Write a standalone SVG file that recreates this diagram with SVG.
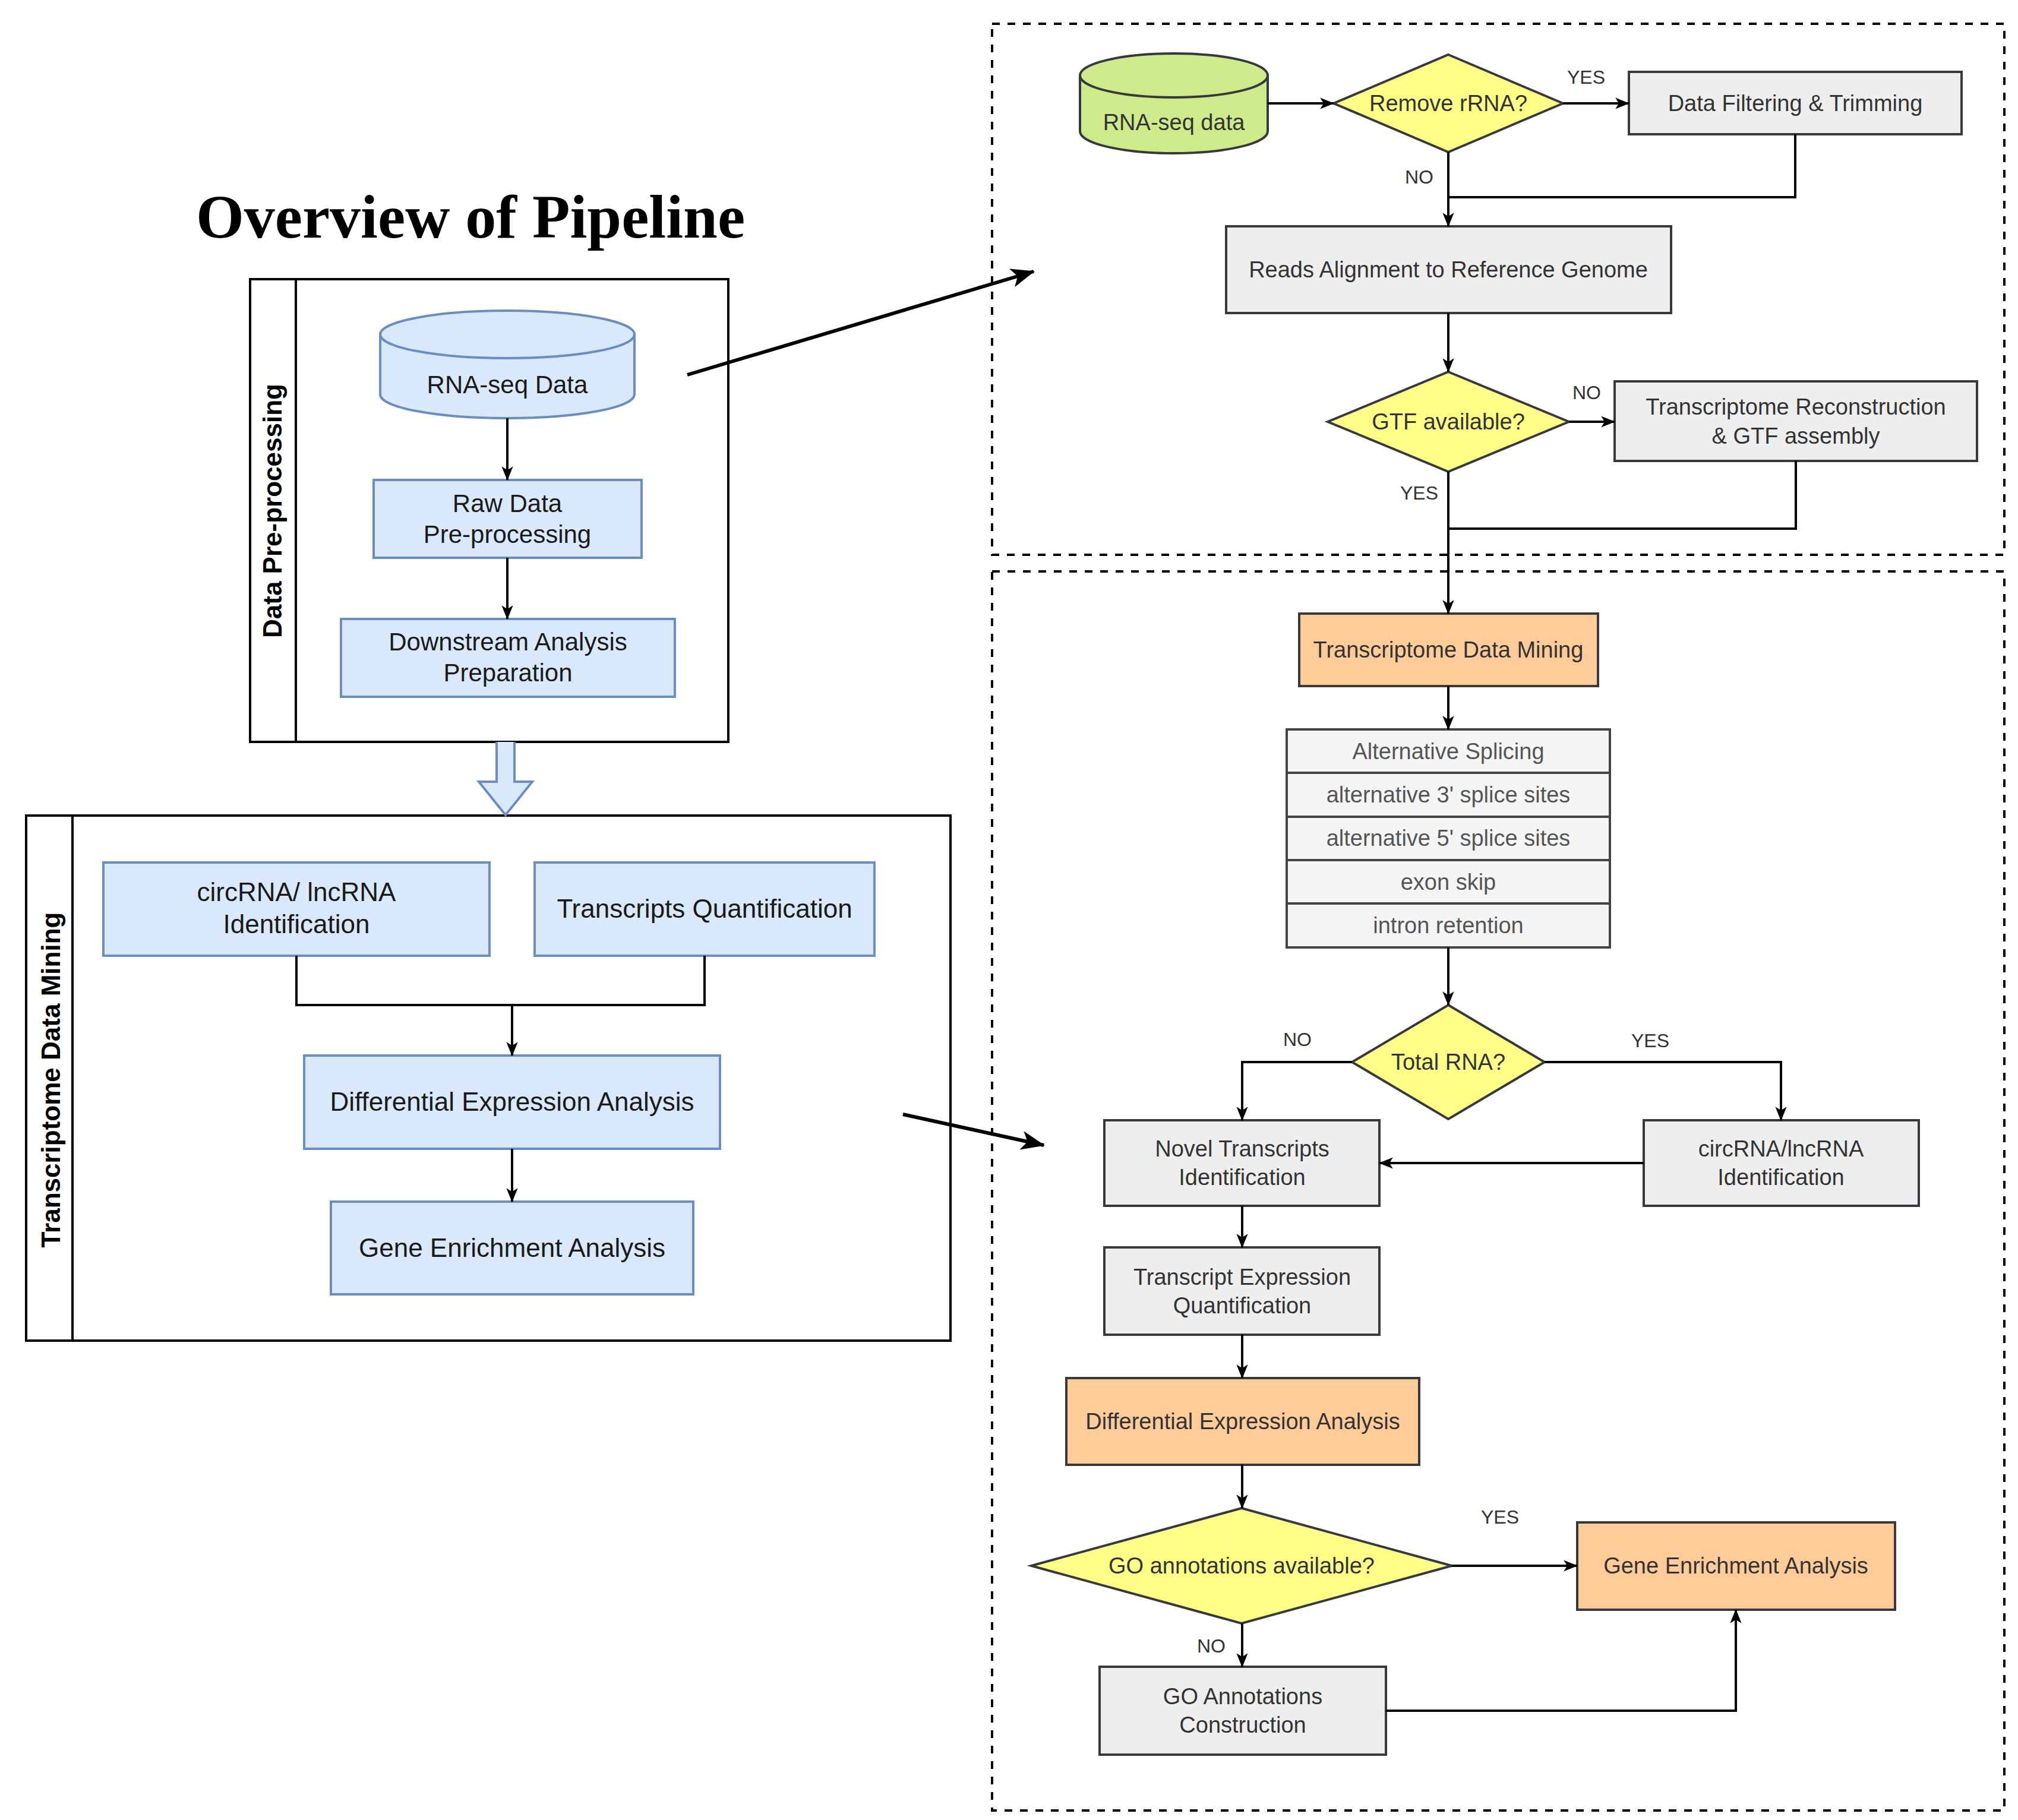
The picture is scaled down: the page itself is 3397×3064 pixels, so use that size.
<svg xmlns="http://www.w3.org/2000/svg" width="3397" height="3064" viewBox="0 0 3397 3064">
<style>
.t{font-family:"Liberation Sans",Arial,sans-serif;text-anchor:middle}
.r{font-size:38px;fill:#333333}
.as{font-size:38px;fill:#555555}
.lb{font-size:32px;fill:#333333}
.l1{font-size:42px;fill:#1a1a1a}
.l2{font-size:44px;fill:#1a1a1a}
.blue{fill:#dae8fc;stroke:#6c8ebf;stroke-width:4}
.gray{fill:#eeeeee;stroke:#36393d;stroke-width:4}
.asr{fill:#f5f5f5;stroke:#444444;stroke-width:4}
.yel{fill:#ffff88;stroke:#36393d;stroke-width:4}
.org{fill:#ffcc99;stroke:#36393d;stroke-width:4}
.grn{fill:#cdeb8b;stroke:#36393d;stroke-width:4}
.frame{fill:#ffffff;stroke:#000;stroke-width:4}
.dash{fill:none;stroke:#000;stroke-width:4;stroke-dasharray:13 13}
.c{fill:none;stroke:#000;stroke-width:4}
.ca{fill:none;stroke:#000;stroke-width:4;marker-end:url(#ah)}
.big{fill:none;stroke:#000;stroke-width:6;marker-end:url(#bh)}
</style>
<defs>
<marker id="ah" viewBox="0 0 20 20" refX="19" refY="10" markerWidth="24" markerHeight="24" markerUnits="userSpaceOnUse" orient="auto">
<path d="M0,2 L20,10 L0,18 L5,10 Z" fill="#000"/>
</marker>
<marker id="bh" viewBox="0 0 20 20" refX="19" refY="10" markerWidth="40" markerHeight="40" markerUnits="userSpaceOnUse" orient="auto">
<path d="M0,2 L20,10 L0,18 L5,10 Z" fill="#000"/>
</marker>
</defs>
<rect width="3397" height="3064" fill="#ffffff"/>

<text x="792" y="400" style="font-family:'Liberation Serif','Times New Roman',serif;font-weight:bold;font-size:104px;text-anchor:middle;fill:#000">Overview of Pipeline</text>

<!-- Left panel: Data Pre-processing -->
<g id="panel-preprocessing">
<rect class="frame" x="421" y="470" width="805" height="779"/>
<line x1="498" y1="470" x2="498" y2="1249" stroke="#000" stroke-width="4"/>
<text class="t" transform="translate(474,860) rotate(-90)" style="font-size:44px;font-weight:bold;fill:#000">Data Pre-processing</text>
</g>
<g id="l-rnaseq">
<path class="blue" d="M640,563 V664 A214,40 0 0 0 1068,664 V563 Z"/>
<ellipse class="blue" cx="854" cy="563" rx="214" ry="40"/>
<text class="t l1" x="854" y="662">RNA-seq Data</text>
</g>
<g id="l-raw">
<rect class="blue" x="629" y="808" width="451" height="131"/>
<text class="t l1" x="854" y="862">Raw Data</text>
<text class="t l1" x="854" y="914">Pre-processing</text>
</g>
<g id="l-downstream">
<rect class="blue" x="574" y="1042" width="562" height="131"/>
<text class="t l1" x="855" y="1095">Downstream Analysis</text>
<text class="t l1" x="855" y="1147">Preparation</text>
</g>

<!-- Left panel: Transcriptome Data Mining -->
<g id="panel-mining">
<rect class="frame" x="44" y="1373" width="1556" height="884"/>
<line x1="122" y1="1373" x2="122" y2="2257" stroke="#000" stroke-width="4"/>
<text class="t" transform="translate(101,1818) rotate(-90)" style="font-size:44px;font-weight:bold;fill:#000">Transcriptome Data Mining</text>
</g>
<g id="l-circ">
<rect class="blue" x="174" y="1452" width="650" height="157"/>
<text class="t l2" x="499" y="1517">circRNA/ lncRNA</text>
<text class="t l2" x="499" y="1571">Identification</text>
</g>
<g id="l-tq">
<rect class="blue" x="900" y="1452" width="572" height="157"/>
<text class="t l2" x="1186" y="1545">Transcripts Quantification</text>
</g>
<g id="l-dea">
<rect class="blue" x="512" y="1777" width="700" height="157"/>
<text class="t l2" x="862" y="1870">Differential Expression Analysis</text>
</g>
<g id="l-gea">
<rect class="blue" x="557" y="2023" width="610" height="156"/>
<text class="t l2" x="862" y="2116">Gene Enrichment Analysis</text>
</g>

<!-- Right: dashed frames -->
<g id="frames">
<rect class="dash" x="1670" y="40" width="1704" height="894"/>
<rect class="dash" x="1670" y="962" width="1704" height="2086"/>
</g>

<g id="r-rnaseq">
<path class="grn" d="M1818,127 V221 A158,37 0 0 0 2134,221 V127 Z"/>
<ellipse class="grn" cx="1976" cy="127" rx="158" ry="37"/>
<text class="t r" x="1976" y="219">RNA-seq data</text>
</g>
<g id="r-remove">
<polygon class="yel" points="2438,92 2631,174 2438,256 2245,174"/>
<text class="t r" x="2438" y="187">Remove rRNA?</text>
</g>
<g id="r-filter">
<rect class="gray" x="2742" y="121" width="560" height="105"/>
<text class="t r" x="3022" y="187">Data Filtering &amp; Trimming</text>
</g>
<g id="r-align">
<rect class="gray" x="2064" y="381" width="749" height="146"/>
<text class="t r" x="2438" y="467">Reads Alignment to Reference Genome</text>
</g>
<g id="r-gtf">
<polygon class="yel" points="2438,626 2641,710 2438,794 2235,710"/>
<text class="t r" x="2438" y="723">GTF available?</text>
</g>
<g id="r-recon">
<rect class="gray" x="2718" y="642" width="610" height="134"/>
<text class="t r" x="3023" y="698">Transcriptome Reconstruction</text>
<text class="t r" x="3023" y="747">&amp; GTF assembly</text>
</g>
<g id="r-tdm">
<rect class="org" x="2187" y="1033" width="503" height="122"/>
<text class="t r" x="2438" y="1107">Transcriptome Data Mining</text>
</g>
<g id="r-as">
<rect class="asr" x="2166" y="1228" width="544" height="73"/>
<rect class="asr" x="2166" y="1301" width="544" height="74"/>
<rect class="asr" x="2166" y="1375" width="544" height="73"/>
<rect class="asr" x="2166" y="1448" width="544" height="73"/>
<rect class="asr" x="2166" y="1521" width="544" height="74"/>
<text class="t as" x="2438" y="1278">Alternative Splicing</text>
<text class="t as" x="2438" y="1351">alternative 3' splice sites</text>
<text class="t as" x="2438" y="1424">alternative 5' splice sites</text>
<text class="t as" x="2438" y="1498">exon skip</text>
<text class="t as" x="2438" y="1571">intron retention</text>
</g>
<g id="r-total">
<polygon class="yel" points="2438,1692 2600,1788 2438,1884 2276,1788"/>
<text class="t r" x="2438" y="1801">Total RNA?</text>
</g>
<g id="r-novel">
<rect class="gray" x="1859" y="1886" width="463" height="144"/>
<text class="t r" x="2091" y="1947">Novel Transcripts</text>
<text class="t r" x="2091" y="1995">Identification</text>
</g>
<g id="r-circ">
<rect class="gray" x="2767" y="1886" width="463" height="144"/>
<text class="t r" x="2998" y="1947">circRNA/lncRNA</text>
<text class="t r" x="2998" y="1995">Identification</text>
</g>
<g id="r-teq">
<rect class="gray" x="1859" y="2100" width="463" height="147"/>
<text class="t r" x="2091" y="2163">Transcript Expression</text>
<text class="t r" x="2091" y="2211">Quantification</text>
</g>
<g id="r-dea">
<rect class="org" x="1795" y="2320" width="594" height="146"/>
<text class="t r" x="2092" y="2406">Differential Expression Analysis</text>
</g>
<g id="r-go">
<polygon class="yel" points="2090,2539 2444,2636 2090,2733 1736,2636"/>
<text class="t r" x="2090" y="2649">GO annotations available?</text>
</g>
<g id="r-gea">
<rect class="org" x="2655" y="2563" width="535" height="147"/>
<text class="t r" x="2922" y="2649">Gene Enrichment Analysis</text>
</g>
<g id="r-goc">
<rect class="gray" x="1851" y="2806" width="482" height="148"/>
<text class="t r" x="2092" y="2869">GO Annotations</text>
<text class="t r" x="2092" y="2917">Construction</text>
</g>

<g id="connectors">
<!-- left -->
<path class="ca" d="M854,704 V808"/>
<path class="ca" d="M854,939 V1042"/>
<path class="c" d="M499,1609 V1692 H1186 V1609"/>
<path class="ca" d="M862,1692 V1777"/>
<path class="ca" d="M862,1934 V2023"/>
<path d="M836,1249 V1316 H806 L851,1372 L896,1316 H866 V1249" fill="#dae8fc" stroke="#6c8ebf" stroke-width="4"/>
<path class="big" d="M1157,631 L1740,457"/>
<path class="big" d="M1520,1876 L1757,1928"/>
<!-- right -->
<path class="ca" d="M2134,174 H2245"/>
<path class="ca" d="M2631,174 H2742"/>
<path class="c" d="M3022,226 V332 H2438"/>
<path class="ca" d="M2438,256 V381"/>
<path class="ca" d="M2438,527 V626"/>
<path class="ca" d="M2641,710 H2718"/>
<path class="c" d="M3023,776 V890 H2438"/>
<path class="ca" d="M2438,794 V1033"/>
<path class="ca" d="M2438,1155 V1228"/>
<path class="ca" d="M2438,1595 V1692"/>
<path class="ca" d="M2276,1788 H2091 V1886"/>
<path class="ca" d="M2600,1788 H2998 V1886"/>
<path class="ca" d="M2767,1958 H2322"/>
<path class="ca" d="M2091,2030 V2100"/>
<path class="ca" d="M2091,2247 V2320"/>
<path class="ca" d="M2091,2466 V2539"/>
<path class="ca" d="M2444,2636 H2655"/>
<path class="ca" d="M2091,2733 V2806"/>
<path class="ca" d="M2333,2880 H2922 V2710"/>
<text class="t lb" x="2670" y="141">YES</text>
<text class="t lb" x="2389" y="309">NO</text>
<text class="t lb" x="2671" y="672">NO</text>
<text class="t lb" x="2389" y="841">YES</text>
<text class="t lb" x="2184" y="1761">NO</text>
<text class="t lb" x="2778" y="1763">YES</text>
<text class="t lb" x="2525" y="2565">YES</text>
<text class="t lb" x="2039" y="2782">NO</text>
</g>
</svg>
